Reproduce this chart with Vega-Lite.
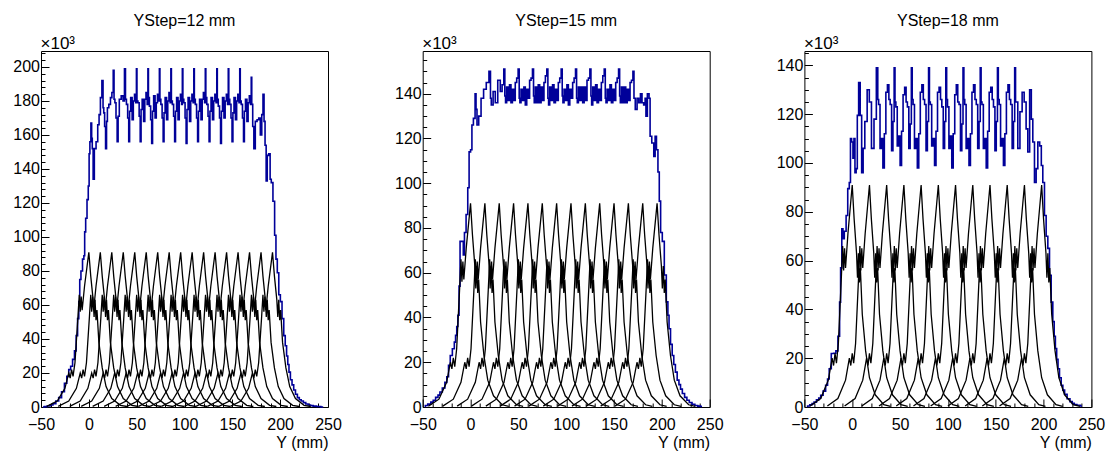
{
"$schema": "https://vega.github.io/schema/vega-lite/v6.json",
"padding": {"left": 12, "top": 12, "right": 5, "bottom": 5},
"background": "white",
"spacing": 94.7,
"bounds": "flush",
"config": {
 "view": {"stroke": "black", "strokeWidth": 1},
 "font": "Liberation Sans",
 "axis": {"labelFont": "Liberation Sans", "labelFontSize": 16, "labelColor": "black", "titleFont": "Liberation Sans", "titleFontSize": 16, "titleFontWeight": "normal", "titleColor": "black", "tickColor": "black", "tickWidth": 1, "domain": false, "grid": false, "labelOverlap": false, "labelFlush": false},
 "title": {"font": "Liberation Sans", "fontSize": 16, "fontWeight": "normal", "color": "black", "anchor": "middle", "offset": 5}
},
"datasets": {
"u1": [
{"x":-48,"y":0},{"x":-45,"y":0.2},{"x":-42,"y":0.6},{"x":-39,"y":1.2},{"x":-36,"y":2},{"x":-33,"y":3.5},{"x":-30,"y":5.5},{"x":-27,"y":9},{"x":-24,"y":14},{"x":-22,"y":18},{"x":-20,"y":22},{"x":-18,"y":24},{"x":-16,"y":28},{"x":-14,"y":33},{"x":-12.5,"y":42},{"x":-11,"y":52},{"x":-10,"y":62},{"x":-9,"y":75},{"x":-7.5,"y":80},{"x":-5.7,"y":87},{"x":-4.7,"y":89},{"x":-4,"y":103},{"x":-2.6,"y":111},{"x":-1.2,"y":122},{"x":0,"y":130},{"x":0.6,"y":149},{"x":1.6,"y":156},{"x":2.7,"y":167},{"x":3.2,"y":158},{"x":4,"y":152},{"x":5,"y":134},{"x":6.5,"y":152},{"x":8.6,"y":156},{"x":10,"y":166},{"x":11.4,"y":172},{"x":12.8,"y":182},{"x":14.5,"y":192},{"x":15.2,"y":176},{"x":16,"y":173},{"x":17,"y":165},{"x":18,"y":152},{"x":19,"y":168},{"x":19.8,"y":176},{"x":22,"y":178},{"x":23.2,"y":182},{"x":25,"y":185},{"x":26,"y":198},{"x":26.7,"y":181},{"x":27.8,"y":179},{"x":29,"y":170},{"x":30.2,"y":156},{"x":31,"y":171},{"x":32.7,"y":181},{"x":35,"y":183},{"x":36.5,"y":180},{"x":38,"y":199},
{"x":38.6,"y":181},{"x":40,"y":178},{"x":41.2,"y":170},{"x":42.2,"y":156},{"x":43,"y":174},{"x":44.5,"y":182},{"x":46,"y":169},{"x":47,"y":180},{"x":48.5,"y":184},{"x":49.5,"y":179},{"x":50,"y":199},
{"x":50.6,"y":180},{"x":52,"y":179},{"x":53.2,"y":171},{"x":54.2,"y":156},{"x":55,"y":175},{"x":56.5,"y":181},{"x":58,"y":168},{"x":59,"y":181},{"x":60.5,"y":185},{"x":61.5,"y":178},{"x":62,"y":199},
{"x":62.6,"y":182},{"x":64,"y":177},{"x":65.2,"y":169},{"x":66.2,"y":155},{"x":67,"y":174},{"x":68.5,"y":183},{"x":70,"y":170},{"x":71,"y":179},{"x":72.5,"y":184},{"x":73.5,"y":180},{"x":74,"y":199},
{"x":74.6,"y":181},{"x":76,"y":178},{"x":77.2,"y":170},{"x":78.2,"y":156},{"x":79,"y":173},{"x":80.5,"y":182},{"x":82,"y":169},{"x":83,"y":180},{"x":84.5,"y":185},{"x":85.5,"y":179},{"x":86,"y":199},
{"x":86.6,"y":180},{"x":88,"y":178},{"x":89.2,"y":171},{"x":90.2,"y":156},{"x":91,"y":174},{"x":92.5,"y":182},{"x":94,"y":169},{"x":95,"y":180},{"x":96.5,"y":184},{"x":97.5,"y":178},{"x":98,"y":199},
{"x":98.6,"y":181},{"x":100,"y":179},{"x":101.2,"y":170},{"x":102.2,"y":155},{"x":103,"y":175},{"x":104.5,"y":182},{"x":106,"y":168},{"x":107,"y":180},{"x":108.5,"y":184},{"x":109.5,"y":179},{"x":110,"y":199},
{"x":110.6,"y":181},{"x":112,"y":178},{"x":113.2,"y":170},{"x":114.2,"y":156},{"x":115,"y":174},{"x":116.5,"y":181},{"x":118,"y":169},{"x":119,"y":181},{"x":120.5,"y":185},{"x":121.5,"y":179},{"x":122,"y":199},
{"x":122.6,"y":182},{"x":124,"y":178},{"x":125.2,"y":171},{"x":126.2,"y":156},{"x":127,"y":174},{"x":128.5,"y":182},{"x":130,"y":169},{"x":131,"y":180},{"x":132.5,"y":184},{"x":133.5,"y":179},{"x":134,"y":199},
{"x":134.6,"y":181},{"x":136,"y":177},{"x":137.2,"y":170},{"x":138.2,"y":155},{"x":139,"y":174},{"x":140.5,"y":182},{"x":142,"y":170},{"x":143,"y":180},{"x":144.5,"y":184},{"x":145.5,"y":178},{"x":146,"y":199},
{"x":146.6,"y":181},{"x":148,"y":178},{"x":149.2,"y":170},{"x":150.2,"y":156},{"x":151,"y":173},{"x":152.5,"y":182},{"x":154,"y":169},{"x":155,"y":180},{"x":156.5,"y":184},{"x":157.5,"y":179},{"x":158,"y":199},
{"x":158.6,"y":180},{"x":160,"y":178},{"x":161.2,"y":170},{"x":162.2,"y":156},{"x":163,"y":174},{"x":164.5,"y":181},{"x":166,"y":168},{"x":167,"y":179},{"x":168.5,"y":183},{"x":169.5,"y":178},{"x":170,"y":194},
{"x":170.6,"y":178},{"x":172,"y":165},{"x":173,"y":152},{"x":175,"y":168},{"x":176.7,"y":169},{"x":178.5,"y":170},{"x":180,"y":160},{"x":181.5,"y":172},{"x":182.6,"y":184},{"x":183.7,"y":168},{"x":184.7,"y":154},{"x":186,"y":133},{"x":187,"y":148},{"x":189,"y":149},{"x":190,"y":134},{"x":191.4,"y":132},{"x":193.5,"y":121},{"x":194.9,"y":101},{"x":196.3,"y":87},{"x":197.7,"y":79},{"x":199.4,"y":66},{"x":201,"y":62},{"x":202.9,"y":52},{"x":204.6,"y":42},{"x":206,"y":36},{"x":207.4,"y":30},{"x":208.5,"y":25},{"x":209.9,"y":20.5},{"x":211.5,"y":16},{"x":213.3,"y":13},{"x":215,"y":10},{"x":217,"y":7.5},{"x":219,"y":5.5},{"x":221,"y":4.3},{"x":223,"y":3.5},{"x":225.5,"y":2.6},{"x":228,"y":1.8},{"x":230.5,"y":1.2},{"x":233,"y":0.8},{"x":236,"y":0.5},{"x":240,"y":0.3},{"x":245,"y":0}
],
"u2": [
{"x":-48,"y":0.2},{"x":-46.5,"y":0.7},{"x":-43,"y":1.3},{"x":-40,"y":2.2},{"x":-38,"y":3},{"x":-35,"y":4.3},{"x":-33,"y":5.3},{"x":-31,"y":6.7},{"x":-28,"y":8.5},{"x":-25.6,"y":11},{"x":-24,"y":13.5},{"x":-22,"y":18.6},{"x":-20.4,"y":23},{"x":-17.6,"y":26},{"x":-16.3,"y":29},{"x":-15,"y":32},{"x":-13.8,"y":36},{"x":-12.7,"y":41},{"x":-11.3,"y":54},{"x":-10.6,"y":74},{"x":-8.1,"y":74},{"x":-7,"y":68},{"x":-5.7,"y":78},{"x":-3.6,"y":86},{"x":-2.2,"y":98},{"x":-0.8,"y":114},{"x":0.9,"y":115},{"x":2,"y":126},{"x":4,"y":129},{"x":5.5,"y":140},{"x":6,"y":133},{"x":7.5,"y":126},{"x":9.6,"y":130},{"x":12.4,"y":138},{"x":14.9,"y":142},{"x":18,"y":145},{"x":20.5,"y":150},{"x":21.2,"y":138},{"x":22.2,"y":135},{"x":25,"y":141},{"x":26.7,"y":136},{"x":30.2,"y":146},{"x":32,"y":141},{"x":34,"y":144},{"x":35.5,"y":151},
{"x":36.2,"y":139},{"x":37,"y":136},{"x":38.5,"y":143},{"x":40,"y":137},{"x":41.5,"y":144},{"x":43,"y":136},{"x":44.5,"y":142},{"x":46,"y":137},{"x":47.5,"y":145},{"x":49,"y":147},{"x":50.5,"y":151},
{"x":51.2,"y":138},{"x":52,"y":136},{"x":53.5,"y":142},{"x":55,"y":137},{"x":56.5,"y":143},{"x":58,"y":135},{"x":59.5,"y":142},{"x":61,"y":138},{"x":62.5,"y":146},{"x":64,"y":147},{"x":65.5,"y":151},
{"x":66.2,"y":139},{"x":67,"y":136},{"x":68.5,"y":143},{"x":70,"y":136},{"x":71.5,"y":144},{"x":73,"y":136},{"x":74.5,"y":143},{"x":76,"y":137},{"x":77.5,"y":145},{"x":79,"y":148},{"x":80.5,"y":151},
{"x":81.2,"y":138},{"x":82,"y":135},{"x":83.5,"y":143},{"x":85,"y":137},{"x":86.5,"y":144},{"x":88,"y":136},{"x":89.5,"y":142},{"x":91,"y":137},{"x":92.5,"y":145},{"x":94,"y":147},{"x":95.5,"y":151},
{"x":96.2,"y":139},{"x":97,"y":136},{"x":98.5,"y":142},{"x":100,"y":137},{"x":101.5,"y":144},{"x":103,"y":135},{"x":104.5,"y":142},{"x":106,"y":138},{"x":107.5,"y":145},{"x":109,"y":147},{"x":110.5,"y":151},
{"x":111.2,"y":138},{"x":112,"y":136},{"x":113.5,"y":143},{"x":115,"y":137},{"x":116.5,"y":143},{"x":118,"y":136},{"x":119.5,"y":143},{"x":121,"y":137},{"x":122.5,"y":146},{"x":124,"y":147},{"x":125.5,"y":151},
{"x":126.2,"y":139},{"x":127,"y":135},{"x":128.5,"y":143},{"x":130,"y":137},{"x":131.5,"y":144},{"x":133,"y":136},{"x":134.5,"y":142},{"x":136,"y":137},{"x":137.5,"y":145},{"x":139,"y":148},{"x":140.5,"y":151},
{"x":141.2,"y":138},{"x":142,"y":136},{"x":143.5,"y":142},{"x":145,"y":137},{"x":146.5,"y":144},{"x":148,"y":136},{"x":149.5,"y":142},{"x":151,"y":137},{"x":152.5,"y":145},{"x":154,"y":147},{"x":155.5,"y":151},
{"x":156.2,"y":139},{"x":157,"y":136},{"x":158.5,"y":143},{"x":160,"y":136},{"x":161.5,"y":143},{"x":163,"y":136},{"x":164.5,"y":142},{"x":166,"y":137},{"x":167.5,"y":145},{"x":169,"y":146},{"x":170.5,"y":150},
{"x":171.2,"y":138},{"x":173.2,"y":133},{"x":175,"y":138},{"x":176.7,"y":136},{"x":178.5,"y":140},{"x":180,"y":136},{"x":182,"y":135},{"x":183,"y":138},{"x":183.7,"y":130},{"x":186,"y":140},{"x":187.2,"y":138},{"x":188.2,"y":121},{"x":190.7,"y":118},{"x":192.4,"y":112},{"x":193.5,"y":121},{"x":195.2,"y":115},{"x":196.6,"y":105},{"x":198,"y":92},{"x":199.4,"y":78},{"x":201.5,"y":74},{"x":203.6,"y":59},{"x":205.7,"y":47},{"x":206.9,"y":41},{"x":208.1,"y":35},{"x":210,"y":28},{"x":211.6,"y":23},{"x":213.3,"y":19},{"x":215,"y":15.6},{"x":217,"y":12},{"x":218.7,"y":10},{"x":220.3,"y":8},{"x":222.5,"y":6},{"x":225,"y":4.3},{"x":227.3,"y":3},{"x":230,"y":2},{"x":233,"y":1.2},{"x":236,"y":0.7},{"x":239,"y":0.4},{"x":242,"y":0.2}
],
"u3": [
{"x":-47.5,"y":0.2},{"x":-45.8,"y":0.4},{"x":-43,"y":0.9},{"x":-41,"y":1.4},{"x":-38.8,"y":2},{"x":-36,"y":2.9},{"x":-34,"y":3.7},{"x":-31.9,"y":4.8},{"x":-29,"y":6.5},{"x":-26.6,"y":8.9},{"x":-25,"y":11.5},{"x":-23.1,"y":15.7},{"x":-20.7,"y":21.9},{"x":-18,"y":22},{"x":-16.2,"y":23},{"x":-13.7,"y":29},{"x":-12.7,"y":43},{"x":-11.6,"y":57},{"x":-10.2,"y":73},{"x":-9.2,"y":69},{"x":-7.4,"y":72},{"x":-5.4,"y":78.5},{"x":-4,"y":89.5},{"x":-2.2,"y":92},{"x":-1.5,"y":110},{"x":0.2,"y":108.6},{"x":1.3,"y":102},{"x":2.3,"y":110},{"x":3.4,"y":96},{"x":4.8,"y":97.7},{"x":5.8,"y":119.5},{"x":7.6,"y":133},{"x":9,"y":119.5},{"x":10.7,"y":96},{"x":12.1,"y":106},{"x":14.2,"y":117},{"x":17,"y":130},{"x":18.7,"y":125},{"x":21.5,"y":106},{"x":24,"y":118},{"x":26.4,"y":139},
{"x":27,"y":126},{"x":28.2,"y":124},{"x":29.9,"y":106},{"x":31.4,"y":110},{"x":32.7,"y":98},{"x":34.4,"y":112},{"x":35.9,"y":129},{"x":37.7,"y":132},{"x":38.9,"y":126},{"x":40.4,"y":124},{"x":41.9,"y":105},{"x":43.2,"y":117},{"x":44.4,"y":139},
{"x":45,"y":125},{"x":46.2,"y":123},{"x":47.9,"y":107},{"x":49.4,"y":111},{"x":50.7,"y":99},{"x":52.4,"y":113},{"x":53.9,"y":128},{"x":55.7,"y":131},{"x":56.9,"y":125},{"x":58.4,"y":123},{"x":59.9,"y":106},{"x":61.2,"y":116},{"x":62.4,"y":139},
{"x":63,"y":126},{"x":64.2,"y":124},{"x":65.9,"y":106},{"x":67.4,"y":110},{"x":68.7,"y":98},{"x":70.4,"y":112},{"x":71.9,"y":129},{"x":73.7,"y":132},{"x":74.9,"y":126},{"x":76.4,"y":124},{"x":77.9,"y":105},{"x":79.2,"y":117},{"x":80.4,"y":139},
{"x":81,"y":125},{"x":82.2,"y":124},{"x":83.9,"y":107},{"x":85.4,"y":110},{"x":86.7,"y":99},{"x":88.4,"y":113},{"x":89.9,"y":129},{"x":91.7,"y":131},{"x":92.9,"y":126},{"x":94.4,"y":123},{"x":95.9,"y":106},{"x":97.2,"y":117},{"x":98.4,"y":139},
{"x":99,"y":126},{"x":100.2,"y":123},{"x":101.9,"y":106},{"x":103.4,"y":111},{"x":104.7,"y":98},{"x":106.4,"y":112},{"x":107.9,"y":128},{"x":109.7,"y":132},{"x":110.9,"y":125},{"x":112.4,"y":124},{"x":113.9,"y":105},{"x":115.2,"y":116},{"x":116.4,"y":139},
{"x":117,"y":126},{"x":118.2,"y":124},{"x":119.9,"y":106},{"x":121.4,"y":110},{"x":122.7,"y":99},{"x":124.4,"y":112},{"x":125.9,"y":129},{"x":127.7,"y":132},{"x":128.9,"y":126},{"x":130.4,"y":124},{"x":131.9,"y":106},{"x":133.2,"y":117},{"x":134.4,"y":139},
{"x":135,"y":125},{"x":136.2,"y":124},{"x":137.9,"y":106},{"x":139.4,"y":110},{"x":140.7,"y":98},{"x":142.4,"y":113},{"x":143.9,"y":129},{"x":145.7,"y":131},{"x":146.9,"y":126},{"x":148.4,"y":123},{"x":149.9,"y":105},{"x":151.2,"y":117},{"x":152.4,"y":139},
{"x":153,"y":126},{"x":154.2,"y":124},{"x":155.9,"y":107},{"x":157.4,"y":110},{"x":158.7,"y":99},{"x":160.4,"y":112},{"x":161.9,"y":129},{"x":163.7,"y":132},{"x":164.9,"y":126},{"x":166.4,"y":124},{"x":167.9,"y":106},{"x":169.2,"y":117},{"x":170.4,"y":139},
{"x":171,"y":125},{"x":172.2,"y":125},{"x":173.9,"y":106},{"x":176.7,"y":121},{"x":178.5,"y":129},{"x":180.9,"y":125},{"x":182.6,"y":114},{"x":184.4,"y":104.5},{"x":186.5,"y":130},{"x":187.9,"y":118},{"x":189.6,"y":108.6},{"x":191.4,"y":92},{"x":193.1,"y":97.7},{"x":194.9,"y":108.6},{"x":197,"y":107},{"x":198.3,"y":99},{"x":200.1,"y":92},{"x":201.8,"y":78.5},{"x":203.6,"y":70},{"x":205.3,"y":65},{"x":207.1,"y":54},{"x":208.8,"y":43},{"x":210.5,"y":35},{"x":211.7,"y":29},{"x":213,"y":24},{"x":214.4,"y":19.5},{"x":215.8,"y":15.7},{"x":217.5,"y":12},{"x":219.3,"y":8.9},{"x":221,"y":6.9},{"x":223,"y":5.2},{"x":226.2,"y":3.4},{"x":229,"y":2.2},{"x":231,"y":1.5},{"x":233.2,"y":1},{"x":236.5,"y":0.7},{"x":240.2,"y":0.4}
],
"b": [
{"c":0,"x":-44,"y":0.4},{"c":0,"x":-33,"y":3.5},{"c":0,"x":-25,"y":11},{"c":0,"x":-21,"y":20},{"c":0,"x":-19.5,"y":17},{"c":0,"x":-18,"y":22},{"c":0,"x":-16.5,"y":18},{"c":0,"x":-14.5,"y":26},{"c":0,"x":-11.5,"y":52},{"c":0,"x":-10,"y":66},{"c":0,"x":-9,"y":56},{"c":0,"x":-8,"y":65},{"c":0,"x":-7,"y":57},{"c":0,"x":-4.5,"y":71},{"c":0,"x":0,"y":91},{"c":0,"x":2,"y":77},{"c":0,"x":4.5,"y":63},{"c":0,"x":5.5,"y":53},{"c":0,"x":6.5,"y":63},{"c":0,"x":7.5,"y":51},{"c":0,"x":8.5,"y":57},{"c":0,"x":10.5,"y":38},{"c":0,"x":14,"y":23},{"c":0,"x":18,"y":12},{"c":0,"x":24,"y":5},{"c":0,"x":33,"y":1},{"c":0,"x":40,"y":0.3},
{"c":12,"x":-32,"y":0.4},{"c":12,"x":-21,"y":3.5},{"c":12,"x":-13,"y":11},{"c":12,"x":-9,"y":20},{"c":12,"x":-7.5,"y":17},{"c":12,"x":-6,"y":22},{"c":12,"x":-4.5,"y":18},{"c":12,"x":-2.5,"y":26},{"c":12,"x":0.5,"y":52},{"c":12,"x":2,"y":66},{"c":12,"x":3,"y":56},{"c":12,"x":4,"y":65},{"c":12,"x":5,"y":57},{"c":12,"x":7.5,"y":71},{"c":12,"x":12,"y":91},{"c":12,"x":14,"y":77},{"c":12,"x":16.5,"y":63},{"c":12,"x":17.5,"y":53},{"c":12,"x":18.5,"y":63},{"c":12,"x":19.5,"y":51},{"c":12,"x":20.5,"y":57},{"c":12,"x":22.5,"y":38},{"c":12,"x":26,"y":23},{"c":12,"x":30,"y":12},{"c":12,"x":36,"y":5},{"c":12,"x":45,"y":1},{"c":12,"x":52,"y":0.3},
{"c":15,"x":-29,"y":0.4},{"c":15,"x":-18,"y":3.5},{"c":15,"x":-10,"y":11},{"c":15,"x":-6,"y":20},{"c":15,"x":-4.5,"y":17},{"c":15,"x":-3,"y":22},{"c":15,"x":-1.5,"y":18},{"c":15,"x":0.5,"y":26},{"c":15,"x":3.5,"y":52},{"c":15,"x":5,"y":66},{"c":15,"x":6,"y":56},{"c":15,"x":7,"y":65},{"c":15,"x":8,"y":57},{"c":15,"x":10.5,"y":71},{"c":15,"x":15,"y":91},{"c":15,"x":17,"y":77},{"c":15,"x":19.5,"y":63},{"c":15,"x":20.5,"y":53},{"c":15,"x":21.5,"y":63},{"c":15,"x":22.5,"y":51},{"c":15,"x":23.5,"y":57},{"c":15,"x":25.5,"y":38},{"c":15,"x":29,"y":23},{"c":15,"x":33,"y":12},{"c":15,"x":39,"y":5},{"c":15,"x":48,"y":1},{"c":15,"x":55,"y":0.3},
{"c":18,"x":-26,"y":0.4},{"c":18,"x":-15,"y":3.5},{"c":18,"x":-7,"y":11},{"c":18,"x":-3,"y":20},{"c":18,"x":-1.5,"y":17},{"c":18,"x":0,"y":22},{"c":18,"x":1.5,"y":18},{"c":18,"x":3.5,"y":26},{"c":18,"x":6.5,"y":52},{"c":18,"x":8,"y":66},{"c":18,"x":9,"y":56},{"c":18,"x":10,"y":65},{"c":18,"x":11,"y":57},{"c":18,"x":13.5,"y":71},{"c":18,"x":18,"y":91},{"c":18,"x":20,"y":77},{"c":18,"x":22.5,"y":63},{"c":18,"x":23.5,"y":53},{"c":18,"x":24.5,"y":63},{"c":18,"x":25.5,"y":51},{"c":18,"x":26.5,"y":57},{"c":18,"x":28.5,"y":38},{"c":18,"x":32,"y":23},{"c":18,"x":36,"y":12},{"c":18,"x":42,"y":5},{"c":18,"x":51,"y":1},{"c":18,"x":58,"y":0.3},
{"c":24,"x":-20,"y":0.4},{"c":24,"x":-9,"y":3.5},{"c":24,"x":-1,"y":11},{"c":24,"x":3,"y":20},{"c":24,"x":4.5,"y":17},{"c":24,"x":6,"y":22},{"c":24,"x":7.5,"y":18},{"c":24,"x":9.5,"y":26},{"c":24,"x":12.5,"y":52},{"c":24,"x":14,"y":66},{"c":24,"x":15,"y":56},{"c":24,"x":16,"y":65},{"c":24,"x":17,"y":57},{"c":24,"x":19.5,"y":71},{"c":24,"x":24,"y":91},{"c":24,"x":26,"y":77},{"c":24,"x":28.5,"y":63},{"c":24,"x":29.5,"y":53},{"c":24,"x":30.5,"y":63},{"c":24,"x":31.5,"y":51},{"c":24,"x":32.5,"y":57},{"c":24,"x":34.5,"y":38},{"c":24,"x":38,"y":23},{"c":24,"x":42,"y":12},{"c":24,"x":48,"y":5},{"c":24,"x":57,"y":1},{"c":24,"x":64,"y":0.3},
{"c":30,"x":-14,"y":0.4},{"c":30,"x":-3,"y":3.5},{"c":30,"x":5,"y":11},{"c":30,"x":9,"y":20},{"c":30,"x":10.5,"y":17},{"c":30,"x":12,"y":22},{"c":30,"x":13.5,"y":18},{"c":30,"x":15.5,"y":26},{"c":30,"x":18.5,"y":52},{"c":30,"x":20,"y":66},{"c":30,"x":21,"y":56},{"c":30,"x":22,"y":65},{"c":30,"x":23,"y":57},{"c":30,"x":25.5,"y":71},{"c":30,"x":30,"y":91},{"c":30,"x":32,"y":77},{"c":30,"x":34.5,"y":63},{"c":30,"x":35.5,"y":53},{"c":30,"x":36.5,"y":63},{"c":30,"x":37.5,"y":51},{"c":30,"x":38.5,"y":57},{"c":30,"x":40.5,"y":38},{"c":30,"x":44,"y":23},{"c":30,"x":48,"y":12},{"c":30,"x":54,"y":5},{"c":30,"x":63,"y":1},{"c":30,"x":70,"y":0.3},
{"c":36,"x":-8,"y":0.4},{"c":36,"x":3,"y":3.5},{"c":36,"x":11,"y":11},{"c":36,"x":15,"y":20},{"c":36,"x":16.5,"y":17},{"c":36,"x":18,"y":22},{"c":36,"x":19.5,"y":18},{"c":36,"x":21.5,"y":26},{"c":36,"x":24.5,"y":52},{"c":36,"x":26,"y":66},{"c":36,"x":27,"y":56},{"c":36,"x":28,"y":65},{"c":36,"x":29,"y":57},{"c":36,"x":31.5,"y":71},{"c":36,"x":36,"y":91},{"c":36,"x":38,"y":77},{"c":36,"x":40.5,"y":63},{"c":36,"x":41.5,"y":53},{"c":36,"x":42.5,"y":63},{"c":36,"x":43.5,"y":51},{"c":36,"x":44.5,"y":57},{"c":36,"x":46.5,"y":38},{"c":36,"x":50,"y":23},{"c":36,"x":54,"y":12},{"c":36,"x":60,"y":5},{"c":36,"x":69,"y":1},{"c":36,"x":76,"y":0.3},
{"c":45,"x":1,"y":0.4},{"c":45,"x":12,"y":3.5},{"c":45,"x":20,"y":11},{"c":45,"x":24,"y":20},{"c":45,"x":25.5,"y":17},{"c":45,"x":27,"y":22},{"c":45,"x":28.5,"y":18},{"c":45,"x":30.5,"y":26},{"c":45,"x":33.5,"y":52},{"c":45,"x":35,"y":66},{"c":45,"x":36,"y":56},{"c":45,"x":37,"y":65},{"c":45,"x":38,"y":57},{"c":45,"x":40.5,"y":71},{"c":45,"x":45,"y":91},{"c":45,"x":47,"y":77},{"c":45,"x":49.5,"y":63},{"c":45,"x":50.5,"y":53},{"c":45,"x":51.5,"y":63},{"c":45,"x":52.5,"y":51},{"c":45,"x":53.5,"y":57},{"c":45,"x":55.5,"y":38},{"c":45,"x":59,"y":23},{"c":45,"x":63,"y":12},{"c":45,"x":69,"y":5},{"c":45,"x":78,"y":1},{"c":45,"x":85,"y":0.3},
{"c":48,"x":4,"y":0.4},{"c":48,"x":15,"y":3.5},{"c":48,"x":23,"y":11},{"c":48,"x":27,"y":20},{"c":48,"x":28.5,"y":17},{"c":48,"x":30,"y":22},{"c":48,"x":31.5,"y":18},{"c":48,"x":33.5,"y":26},{"c":48,"x":36.5,"y":52},{"c":48,"x":38,"y":66},{"c":48,"x":39,"y":56},{"c":48,"x":40,"y":65},{"c":48,"x":41,"y":57},{"c":48,"x":43.5,"y":71},{"c":48,"x":48,"y":91},{"c":48,"x":50,"y":77},{"c":48,"x":52.5,"y":63},{"c":48,"x":53.5,"y":53},{"c":48,"x":54.5,"y":63},{"c":48,"x":55.5,"y":51},{"c":48,"x":56.5,"y":57},{"c":48,"x":58.5,"y":38},{"c":48,"x":62,"y":23},{"c":48,"x":66,"y":12},{"c":48,"x":72,"y":5},{"c":48,"x":81,"y":1},{"c":48,"x":88,"y":0.3},
{"c":54,"x":10,"y":0.4},{"c":54,"x":21,"y":3.5},{"c":54,"x":29,"y":11},{"c":54,"x":33,"y":20},{"c":54,"x":34.5,"y":17},{"c":54,"x":36,"y":22},{"c":54,"x":37.5,"y":18},{"c":54,"x":39.5,"y":26},{"c":54,"x":42.5,"y":52},{"c":54,"x":44,"y":66},{"c":54,"x":45,"y":56},{"c":54,"x":46,"y":65},{"c":54,"x":47,"y":57},{"c":54,"x":49.5,"y":71},{"c":54,"x":54,"y":91},{"c":54,"x":56,"y":77},{"c":54,"x":58.5,"y":63},{"c":54,"x":59.5,"y":53},{"c":54,"x":60.5,"y":63},{"c":54,"x":61.5,"y":51},{"c":54,"x":62.5,"y":57},{"c":54,"x":64.5,"y":38},{"c":54,"x":68,"y":23},{"c":54,"x":72,"y":12},{"c":54,"x":78,"y":5},{"c":54,"x":87,"y":1},{"c":54,"x":94,"y":0.3},
{"c":60,"x":16,"y":0.4},{"c":60,"x":27,"y":3.5},{"c":60,"x":35,"y":11},{"c":60,"x":39,"y":20},{"c":60,"x":40.5,"y":17},{"c":60,"x":42,"y":22},{"c":60,"x":43.5,"y":18},{"c":60,"x":45.5,"y":26},{"c":60,"x":48.5,"y":52},{"c":60,"x":50,"y":66},{"c":60,"x":51,"y":56},{"c":60,"x":52,"y":65},{"c":60,"x":53,"y":57},{"c":60,"x":55.5,"y":71},{"c":60,"x":60,"y":91},{"c":60,"x":62,"y":77},{"c":60,"x":64.5,"y":63},{"c":60,"x":65.5,"y":53},{"c":60,"x":66.5,"y":63},{"c":60,"x":67.5,"y":51},{"c":60,"x":68.5,"y":57},{"c":60,"x":70.5,"y":38},{"c":60,"x":74,"y":23},{"c":60,"x":78,"y":12},{"c":60,"x":84,"y":5},{"c":60,"x":93,"y":1},{"c":60,"x":100,"y":0.3},
{"c":72,"x":28,"y":0.4},{"c":72,"x":39,"y":3.5},{"c":72,"x":47,"y":11},{"c":72,"x":51,"y":20},{"c":72,"x":52.5,"y":17},{"c":72,"x":54,"y":22},{"c":72,"x":55.5,"y":18},{"c":72,"x":57.5,"y":26},{"c":72,"x":60.5,"y":52},{"c":72,"x":62,"y":66},{"c":72,"x":63,"y":56},{"c":72,"x":64,"y":65},{"c":72,"x":65,"y":57},{"c":72,"x":67.5,"y":71},{"c":72,"x":72,"y":91},{"c":72,"x":74,"y":77},{"c":72,"x":76.5,"y":63},{"c":72,"x":77.5,"y":53},{"c":72,"x":78.5,"y":63},{"c":72,"x":79.5,"y":51},{"c":72,"x":80.5,"y":57},{"c":72,"x":82.5,"y":38},{"c":72,"x":86,"y":23},{"c":72,"x":90,"y":12},{"c":72,"x":96,"y":5},{"c":72,"x":105,"y":1},{"c":72,"x":112,"y":0.3},
{"c":75,"x":31,"y":0.4},{"c":75,"x":42,"y":3.5},{"c":75,"x":50,"y":11},{"c":75,"x":54,"y":20},{"c":75,"x":55.5,"y":17},{"c":75,"x":57,"y":22},{"c":75,"x":58.5,"y":18},{"c":75,"x":60.5,"y":26},{"c":75,"x":63.5,"y":52},{"c":75,"x":65,"y":66},{"c":75,"x":66,"y":56},{"c":75,"x":67,"y":65},{"c":75,"x":68,"y":57},{"c":75,"x":70.5,"y":71},{"c":75,"x":75,"y":91},{"c":75,"x":77,"y":77},{"c":75,"x":79.5,"y":63},{"c":75,"x":80.5,"y":53},{"c":75,"x":81.5,"y":63},{"c":75,"x":82.5,"y":51},{"c":75,"x":83.5,"y":57},{"c":75,"x":85.5,"y":38},{"c":75,"x":89,"y":23},{"c":75,"x":93,"y":12},{"c":75,"x":99,"y":5},{"c":75,"x":108,"y":1},{"c":75,"x":115,"y":0.3},
{"c":84,"x":40,"y":0.4},{"c":84,"x":51,"y":3.5},{"c":84,"x":59,"y":11},{"c":84,"x":63,"y":20},{"c":84,"x":64.5,"y":17},{"c":84,"x":66,"y":22},{"c":84,"x":67.5,"y":18},{"c":84,"x":69.5,"y":26},{"c":84,"x":72.5,"y":52},{"c":84,"x":74,"y":66},{"c":84,"x":75,"y":56},{"c":84,"x":76,"y":65},{"c":84,"x":77,"y":57},{"c":84,"x":79.5,"y":71},{"c":84,"x":84,"y":91},{"c":84,"x":86,"y":77},{"c":84,"x":88.5,"y":63},{"c":84,"x":89.5,"y":53},{"c":84,"x":90.5,"y":63},{"c":84,"x":91.5,"y":51},{"c":84,"x":92.5,"y":57},{"c":84,"x":94.5,"y":38},{"c":84,"x":98,"y":23},{"c":84,"x":102,"y":12},{"c":84,"x":108,"y":5},{"c":84,"x":117,"y":1},{"c":84,"x":124,"y":0.3},
{"c":90,"x":46,"y":0.4},{"c":90,"x":57,"y":3.5},{"c":90,"x":65,"y":11},{"c":90,"x":69,"y":20},{"c":90,"x":70.5,"y":17},{"c":90,"x":72,"y":22},{"c":90,"x":73.5,"y":18},{"c":90,"x":75.5,"y":26},{"c":90,"x":78.5,"y":52},{"c":90,"x":80,"y":66},{"c":90,"x":81,"y":56},{"c":90,"x":82,"y":65},{"c":90,"x":83,"y":57},{"c":90,"x":85.5,"y":71},{"c":90,"x":90,"y":91},{"c":90,"x":92,"y":77},{"c":90,"x":94.5,"y":63},{"c":90,"x":95.5,"y":53},{"c":90,"x":96.5,"y":63},{"c":90,"x":97.5,"y":51},{"c":90,"x":98.5,"y":57},{"c":90,"x":100.5,"y":38},{"c":90,"x":104,"y":23},{"c":90,"x":108,"y":12},{"c":90,"x":114,"y":5},{"c":90,"x":123,"y":1},{"c":90,"x":130,"y":0.3},
{"c":96,"x":52,"y":0.4},{"c":96,"x":63,"y":3.5},{"c":96,"x":71,"y":11},{"c":96,"x":75,"y":20},{"c":96,"x":76.5,"y":17},{"c":96,"x":78,"y":22},{"c":96,"x":79.5,"y":18},{"c":96,"x":81.5,"y":26},{"c":96,"x":84.5,"y":52},{"c":96,"x":86,"y":66},{"c":96,"x":87,"y":56},{"c":96,"x":88,"y":65},{"c":96,"x":89,"y":57},{"c":96,"x":91.5,"y":71},{"c":96,"x":96,"y":91},{"c":96,"x":98,"y":77},{"c":96,"x":100.5,"y":63},{"c":96,"x":101.5,"y":53},{"c":96,"x":102.5,"y":63},{"c":96,"x":103.5,"y":51},{"c":96,"x":104.5,"y":57},{"c":96,"x":106.5,"y":38},{"c":96,"x":110,"y":23},{"c":96,"x":114,"y":12},{"c":96,"x":120,"y":5},{"c":96,"x":129,"y":1},{"c":96,"x":136,"y":0.3},
{"c":105,"x":61,"y":0.4},{"c":105,"x":72,"y":3.5},{"c":105,"x":80,"y":11},{"c":105,"x":84,"y":20},{"c":105,"x":85.5,"y":17},{"c":105,"x":87,"y":22},{"c":105,"x":88.5,"y":18},{"c":105,"x":90.5,"y":26},{"c":105,"x":93.5,"y":52},{"c":105,"x":95,"y":66},{"c":105,"x":96,"y":56},{"c":105,"x":97,"y":65},{"c":105,"x":98,"y":57},{"c":105,"x":100.5,"y":71},{"c":105,"x":105,"y":91},{"c":105,"x":107,"y":77},{"c":105,"x":109.5,"y":63},{"c":105,"x":110.5,"y":53},{"c":105,"x":111.5,"y":63},{"c":105,"x":112.5,"y":51},{"c":105,"x":113.5,"y":57},{"c":105,"x":115.5,"y":38},{"c":105,"x":119,"y":23},{"c":105,"x":123,"y":12},{"c":105,"x":129,"y":5},{"c":105,"x":138,"y":1},{"c":105,"x":145,"y":0.3},
{"c":108,"x":64,"y":0.4},{"c":108,"x":75,"y":3.5},{"c":108,"x":83,"y":11},{"c":108,"x":87,"y":20},{"c":108,"x":88.5,"y":17},{"c":108,"x":90,"y":22},{"c":108,"x":91.5,"y":18},{"c":108,"x":93.5,"y":26},{"c":108,"x":96.5,"y":52},{"c":108,"x":98,"y":66},{"c":108,"x":99,"y":56},{"c":108,"x":100,"y":65},{"c":108,"x":101,"y":57},{"c":108,"x":103.5,"y":71},{"c":108,"x":108,"y":91},{"c":108,"x":110,"y":77},{"c":108,"x":112.5,"y":63},{"c":108,"x":113.5,"y":53},{"c":108,"x":114.5,"y":63},{"c":108,"x":115.5,"y":51},{"c":108,"x":116.5,"y":57},{"c":108,"x":118.5,"y":38},{"c":108,"x":122,"y":23},{"c":108,"x":126,"y":12},{"c":108,"x":132,"y":5},{"c":108,"x":141,"y":1},{"c":108,"x":148,"y":0.3},
{"c":120,"x":76,"y":0.4},{"c":120,"x":87,"y":3.5},{"c":120,"x":95,"y":11},{"c":120,"x":99,"y":20},{"c":120,"x":100.5,"y":17},{"c":120,"x":102,"y":22},{"c":120,"x":103.5,"y":18},{"c":120,"x":105.5,"y":26},{"c":120,"x":108.5,"y":52},{"c":120,"x":110,"y":66},{"c":120,"x":111,"y":56},{"c":120,"x":112,"y":65},{"c":120,"x":113,"y":57},{"c":120,"x":115.5,"y":71},{"c":120,"x":120,"y":91},{"c":120,"x":122,"y":77},{"c":120,"x":124.5,"y":63},{"c":120,"x":125.5,"y":53},{"c":120,"x":126.5,"y":63},{"c":120,"x":127.5,"y":51},{"c":120,"x":128.5,"y":57},{"c":120,"x":130.5,"y":38},{"c":120,"x":134,"y":23},{"c":120,"x":138,"y":12},{"c":120,"x":144,"y":5},{"c":120,"x":153,"y":1},{"c":120,"x":160,"y":0.3},
{"c":126,"x":82,"y":0.4},{"c":126,"x":93,"y":3.5},{"c":126,"x":101,"y":11},{"c":126,"x":105,"y":20},{"c":126,"x":106.5,"y":17},{"c":126,"x":108,"y":22},{"c":126,"x":109.5,"y":18},{"c":126,"x":111.5,"y":26},{"c":126,"x":114.5,"y":52},{"c":126,"x":116,"y":66},{"c":126,"x":117,"y":56},{"c":126,"x":118,"y":65},{"c":126,"x":119,"y":57},{"c":126,"x":121.5,"y":71},{"c":126,"x":126,"y":91},{"c":126,"x":128,"y":77},{"c":126,"x":130.5,"y":63},{"c":126,"x":131.5,"y":53},{"c":126,"x":132.5,"y":63},{"c":126,"x":133.5,"y":51},{"c":126,"x":134.5,"y":57},{"c":126,"x":136.5,"y":38},{"c":126,"x":140,"y":23},{"c":126,"x":144,"y":12},{"c":126,"x":150,"y":5},{"c":126,"x":159,"y":1},{"c":126,"x":166,"y":0.3},
{"c":132,"x":88,"y":0.4},{"c":132,"x":99,"y":3.5},{"c":132,"x":107,"y":11},{"c":132,"x":111,"y":20},{"c":132,"x":112.5,"y":17},{"c":132,"x":114,"y":22},{"c":132,"x":115.5,"y":18},{"c":132,"x":117.5,"y":26},{"c":132,"x":120.5,"y":52},{"c":132,"x":122,"y":66},{"c":132,"x":123,"y":56},{"c":132,"x":124,"y":65},{"c":132,"x":125,"y":57},{"c":132,"x":127.5,"y":71},{"c":132,"x":132,"y":91},{"c":132,"x":134,"y":77},{"c":132,"x":136.5,"y":63},{"c":132,"x":137.5,"y":53},{"c":132,"x":138.5,"y":63},{"c":132,"x":139.5,"y":51},{"c":132,"x":140.5,"y":57},{"c":132,"x":142.5,"y":38},{"c":132,"x":146,"y":23},{"c":132,"x":150,"y":12},{"c":132,"x":156,"y":5},{"c":132,"x":165,"y":1},{"c":132,"x":172,"y":0.3},
{"c":135,"x":91,"y":0.4},{"c":135,"x":102,"y":3.5},{"c":135,"x":110,"y":11},{"c":135,"x":114,"y":20},{"c":135,"x":115.5,"y":17},{"c":135,"x":117,"y":22},{"c":135,"x":118.5,"y":18},{"c":135,"x":120.5,"y":26},{"c":135,"x":123.5,"y":52},{"c":135,"x":125,"y":66},{"c":135,"x":126,"y":56},{"c":135,"x":127,"y":65},{"c":135,"x":128,"y":57},{"c":135,"x":130.5,"y":71},{"c":135,"x":135,"y":91},{"c":135,"x":137,"y":77},{"c":135,"x":139.5,"y":63},{"c":135,"x":140.5,"y":53},{"c":135,"x":141.5,"y":63},{"c":135,"x":142.5,"y":51},{"c":135,"x":143.5,"y":57},{"c":135,"x":145.5,"y":38},{"c":135,"x":149,"y":23},{"c":135,"x":153,"y":12},{"c":135,"x":159,"y":5},{"c":135,"x":168,"y":1},{"c":135,"x":175,"y":0.3},
{"c":144,"x":100,"y":0.4},{"c":144,"x":111,"y":3.5},{"c":144,"x":119,"y":11},{"c":144,"x":123,"y":20},{"c":144,"x":124.5,"y":17},{"c":144,"x":126,"y":22},{"c":144,"x":127.5,"y":18},{"c":144,"x":129.5,"y":26},{"c":144,"x":132.5,"y":52},{"c":144,"x":134,"y":66},{"c":144,"x":135,"y":56},{"c":144,"x":136,"y":65},{"c":144,"x":137,"y":57},{"c":144,"x":139.5,"y":71},{"c":144,"x":144,"y":91},{"c":144,"x":146,"y":77},{"c":144,"x":148.5,"y":63},{"c":144,"x":149.5,"y":53},{"c":144,"x":150.5,"y":63},{"c":144,"x":151.5,"y":51},{"c":144,"x":152.5,"y":57},{"c":144,"x":154.5,"y":38},{"c":144,"x":158,"y":23},{"c":144,"x":162,"y":12},{"c":144,"x":168,"y":5},{"c":144,"x":177,"y":1},{"c":144,"x":184,"y":0.3},
{"c":150,"x":106,"y":0.4},{"c":150,"x":117,"y":3.5},{"c":150,"x":125,"y":11},{"c":150,"x":129,"y":20},{"c":150,"x":130.5,"y":17},{"c":150,"x":132,"y":22},{"c":150,"x":133.5,"y":18},{"c":150,"x":135.5,"y":26},{"c":150,"x":138.5,"y":52},{"c":150,"x":140,"y":66},{"c":150,"x":141,"y":56},{"c":150,"x":142,"y":65},{"c":150,"x":143,"y":57},{"c":150,"x":145.5,"y":71},{"c":150,"x":150,"y":91},{"c":150,"x":152,"y":77},{"c":150,"x":154.5,"y":63},{"c":150,"x":155.5,"y":53},{"c":150,"x":156.5,"y":63},{"c":150,"x":157.5,"y":51},{"c":150,"x":158.5,"y":57},{"c":150,"x":160.5,"y":38},{"c":150,"x":164,"y":23},{"c":150,"x":168,"y":12},{"c":150,"x":174,"y":5},{"c":150,"x":183,"y":1},{"c":150,"x":190,"y":0.3},
{"c":156,"x":112,"y":0.4},{"c":156,"x":123,"y":3.5},{"c":156,"x":131,"y":11},{"c":156,"x":135,"y":20},{"c":156,"x":136.5,"y":17},{"c":156,"x":138,"y":22},{"c":156,"x":139.5,"y":18},{"c":156,"x":141.5,"y":26},{"c":156,"x":144.5,"y":52},{"c":156,"x":146,"y":66},{"c":156,"x":147,"y":56},{"c":156,"x":148,"y":65},{"c":156,"x":149,"y":57},{"c":156,"x":151.5,"y":71},{"c":156,"x":156,"y":91},{"c":156,"x":158,"y":77},{"c":156,"x":160.5,"y":63},{"c":156,"x":161.5,"y":53},{"c":156,"x":162.5,"y":63},{"c":156,"x":163.5,"y":51},{"c":156,"x":164.5,"y":57},{"c":156,"x":166.5,"y":38},{"c":156,"x":170,"y":23},{"c":156,"x":174,"y":12},{"c":156,"x":180,"y":5},{"c":156,"x":189,"y":1},{"c":156,"x":196,"y":0.3},
{"c":162,"x":118,"y":0.4},{"c":162,"x":129,"y":3.5},{"c":162,"x":137,"y":11},{"c":162,"x":141,"y":20},{"c":162,"x":142.5,"y":17},{"c":162,"x":144,"y":22},{"c":162,"x":145.5,"y":18},{"c":162,"x":147.5,"y":26},{"c":162,"x":150.5,"y":52},{"c":162,"x":152,"y":66},{"c":162,"x":153,"y":56},{"c":162,"x":154,"y":65},{"c":162,"x":155,"y":57},{"c":162,"x":157.5,"y":71},{"c":162,"x":162,"y":91},{"c":162,"x":164,"y":77},{"c":162,"x":166.5,"y":63},{"c":162,"x":167.5,"y":53},{"c":162,"x":168.5,"y":63},{"c":162,"x":169.5,"y":51},{"c":162,"x":170.5,"y":57},{"c":162,"x":172.5,"y":38},{"c":162,"x":176,"y":23},{"c":162,"x":180,"y":12},{"c":162,"x":186,"y":5},{"c":162,"x":195,"y":1},{"c":162,"x":202,"y":0.3},
{"c":165,"x":121,"y":0.4},{"c":165,"x":132,"y":3.5},{"c":165,"x":140,"y":11},{"c":165,"x":144,"y":20},{"c":165,"x":145.5,"y":17},{"c":165,"x":147,"y":22},{"c":165,"x":148.5,"y":18},{"c":165,"x":150.5,"y":26},{"c":165,"x":153.5,"y":52},{"c":165,"x":155,"y":66},{"c":165,"x":156,"y":56},{"c":165,"x":157,"y":65},{"c":165,"x":158,"y":57},{"c":165,"x":160.5,"y":71},{"c":165,"x":165,"y":91},{"c":165,"x":167,"y":77},{"c":165,"x":169.5,"y":63},{"c":165,"x":170.5,"y":53},{"c":165,"x":171.5,"y":63},{"c":165,"x":172.5,"y":51},{"c":165,"x":173.5,"y":57},{"c":165,"x":175.5,"y":38},{"c":165,"x":179,"y":23},{"c":165,"x":183,"y":12},{"c":165,"x":189,"y":5},{"c":165,"x":198,"y":1},{"c":165,"x":205,"y":0.3},
{"c":168,"x":124,"y":0.4},{"c":168,"x":135,"y":3.5},{"c":168,"x":143,"y":11},{"c":168,"x":147,"y":20},{"c":168,"x":148.5,"y":17},{"c":168,"x":150,"y":22},{"c":168,"x":151.5,"y":18},{"c":168,"x":153.5,"y":26},{"c":168,"x":156.5,"y":52},{"c":168,"x":158,"y":66},{"c":168,"x":159,"y":56},{"c":168,"x":160,"y":65},{"c":168,"x":161,"y":57},{"c":168,"x":163.5,"y":71},{"c":168,"x":168,"y":91},{"c":168,"x":170,"y":77},{"c":168,"x":172.5,"y":63},{"c":168,"x":173.5,"y":53},{"c":168,"x":174.5,"y":63},{"c":168,"x":175.5,"y":51},{"c":168,"x":176.5,"y":57},{"c":168,"x":178.5,"y":38},{"c":168,"x":182,"y":23},{"c":168,"x":186,"y":12},{"c":168,"x":192,"y":5},{"c":168,"x":201,"y":1},{"c":168,"x":208,"y":0.3},
{"c":180,"x":136,"y":0.4},{"c":180,"x":147,"y":3.5},{"c":180,"x":155,"y":11},{"c":180,"x":159,"y":20},{"c":180,"x":160.5,"y":17},{"c":180,"x":162,"y":22},{"c":180,"x":163.5,"y":18},{"c":180,"x":165.5,"y":26},{"c":180,"x":168.5,"y":52},{"c":180,"x":170,"y":66},{"c":180,"x":171,"y":56},{"c":180,"x":172,"y":65},{"c":180,"x":173,"y":57},{"c":180,"x":175.5,"y":71},{"c":180,"x":180,"y":91},{"c":180,"x":182,"y":77},{"c":180,"x":184.5,"y":63},{"c":180,"x":185.5,"y":53},{"c":180,"x":186.5,"y":63},{"c":180,"x":187.5,"y":51},{"c":180,"x":188.5,"y":57},{"c":180,"x":190.5,"y":38},{"c":180,"x":194,"y":23},{"c":180,"x":198,"y":12},{"c":180,"x":204,"y":5},{"c":180,"x":213,"y":1},{"c":180,"x":220,"y":0.3},
{"c":192,"x":148,"y":0.4},{"c":192,"x":159,"y":3.5},{"c":192,"x":167,"y":11},{"c":192,"x":171,"y":20},{"c":192,"x":172.5,"y":17},{"c":192,"x":174,"y":22},{"c":192,"x":175.5,"y":18},{"c":192,"x":177.5,"y":26},{"c":192,"x":180.5,"y":52},{"c":192,"x":182,"y":66},{"c":192,"x":183,"y":56},{"c":192,"x":184,"y":65},{"c":192,"x":185,"y":57},{"c":192,"x":187.5,"y":71},{"c":192,"x":192,"y":91},{"c":192,"x":194,"y":77},{"c":192,"x":196.5,"y":63},{"c":192,"x":197.5,"y":53},{"c":192,"x":198.5,"y":63},{"c":192,"x":199.5,"y":51},{"c":192,"x":200.5,"y":57},{"c":192,"x":202.5,"y":38},{"c":192,"x":206,"y":23},{"c":192,"x":210,"y":12},{"c":192,"x":216,"y":5},{"c":192,"x":225,"y":1},{"c":192,"x":232,"y":0.3},
{"c":195,"x":151,"y":0.4},{"c":195,"x":162,"y":3.5},{"c":195,"x":170,"y":11},{"c":195,"x":174,"y":20},{"c":195,"x":175.5,"y":17},{"c":195,"x":177,"y":22},{"c":195,"x":178.5,"y":18},{"c":195,"x":180.5,"y":26},{"c":195,"x":183.5,"y":52},{"c":195,"x":185,"y":66},{"c":195,"x":186,"y":56},{"c":195,"x":187,"y":65},{"c":195,"x":188,"y":57},{"c":195,"x":190.5,"y":71},{"c":195,"x":195,"y":91},{"c":195,"x":197,"y":77},{"c":195,"x":199.5,"y":63},{"c":195,"x":200.5,"y":53},{"c":195,"x":201.5,"y":63},{"c":195,"x":202.5,"y":51},{"c":195,"x":203.5,"y":57},{"c":195,"x":205.5,"y":38},{"c":195,"x":209,"y":23},{"c":195,"x":213,"y":12},{"c":195,"x":219,"y":5},{"c":195,"x":228,"y":1},{"c":195,"x":235,"y":0.3},
{"c":198,"x":154,"y":0.4},{"c":198,"x":165,"y":3.5},{"c":198,"x":173,"y":11},{"c":198,"x":177,"y":20},{"c":198,"x":178.5,"y":17},{"c":198,"x":180,"y":22},{"c":198,"x":181.5,"y":18},{"c":198,"x":183.5,"y":26},{"c":198,"x":186.5,"y":52},{"c":198,"x":188,"y":66},{"c":198,"x":189,"y":56},{"c":198,"x":190,"y":65},{"c":198,"x":191,"y":57},{"c":198,"x":193.5,"y":71},{"c":198,"x":198,"y":91},{"c":198,"x":200,"y":77},{"c":198,"x":202.5,"y":63},{"c":198,"x":203.5,"y":53},{"c":198,"x":204.5,"y":63},{"c":198,"x":205.5,"y":51},{"c":198,"x":206.5,"y":57},{"c":198,"x":208.5,"y":38},{"c":198,"x":212,"y":23},{"c":198,"x":216,"y":12},{"c":198,"x":222,"y":5},{"c":198,"x":231,"y":1},{"c":198,"x":238,"y":0.3}
]
},
"hconcat": [
{"title": "YStep=12 mm", "width": 287, "height": 356,
 "resolve": {"axis": {"x": "independent", "y": "independent"}},
 "layer": [
  {"data": {"name": "u1"}, "mark": {"type": "line", "color": "#000099", "strokeWidth": 1.6, "interpolate": "step"},
   "encoding": {
    "x": {"field": "x", "type": "quantitative", "scale": {"domain": [-50, 250], "nice": false, "zero": false}, "axis": {"orient": "bottom", "values": [-40,-30,-20,-10,10,20,30,40,60,70,80,90,110,120,130,140,160,170,180,190,210,220,230,240], "tickSize": -4, "labels": false, "title": null}},
    "y": {"field": "y", "type": "quantitative", "scale": {"domain": [0, 209.4], "nice": false}, "axis": {"orient": "left", "values": [4,8,12,16,24,28,32,36,44,48,52,56,64,68,72,76,84,88,92,96,104,108,112,116,124,128,132,136,144,148,152,156,164,168,172,176,184,188,192,196,204,208], "tickSize": -4, "labels": false, "title": null}}}},
  {"data": {"name": "b"}, "transform": [{"filter": {"field": "c", "oneOf": [0,12,24,36,48,60,72,84,96,108,120,132,144,156,168,180,192]}}],
   "mark": {"type": "line", "color": "black", "strokeWidth": 1.3},
   "encoding": {
    "detail": {"field": "c", "type": "nominal"},
    "x": {"field": "x", "type": "quantitative", "axis": {"orient": "bottom", "values": [-50,0,50,100,150,200,250], "tickSize": -8, "labelPadding": 17, "title": "Y (mm)", "titleAnchor": "end", "titleAlign": "right", "titlePadding": 2}},
    "y": {"field": "y", "type": "quantitative", "axis": {"orient": "left", "values": [0,20,40,60,80,100,120,140,160,180,200], "tickSize": -8, "labelPadding": 9.5, "title": "×10³", "titleAngle": 0, "titleAlign": "left", "titleBaseline": "alphabetic", "titleX": -1, "titleY": -3, "titleFontSize": 17}}}}
 ]},
{"title": "YStep=15 mm", "width": 287, "height": 356,
 "resolve": {"axis": {"x": "independent", "y": "independent"}},
 "layer": [
  {"data": {"name": "u2"}, "mark": {"type": "line", "color": "#000099", "strokeWidth": 1.6, "interpolate": "step"},
   "encoding": {
    "x": {"field": "x", "type": "quantitative", "scale": {"domain": [-50, 250], "nice": false, "zero": false}, "axis": {"orient": "bottom", "values": [-40,-30,-20,-10,10,20,30,40,60,70,80,90,110,120,130,140,160,170,180,190,210,220,230,240], "tickSize": -4, "labels": false, "title": null}},
    "y": {"field": "y", "type": "quantitative", "scale": {"domain": [0, 159.1], "nice": false}, "axis": {"orient": "left", "values": [5,10,15,25,30,35,45,50,55,65,70,75,85,90,95,105,110,115,125,130,135,145,150,155], "tickSize": -4, "labels": false, "title": null}}}},
  {"data": {"name": "b"}, "transform": [{"filter": {"field": "c", "oneOf": [0,15,30,45,60,75,90,105,120,135,150,165,180,195]}}],
   "mark": {"type": "line", "color": "black", "strokeWidth": 1.3},
   "encoding": {
    "detail": {"field": "c", "type": "nominal"},
    "x": {"field": "x", "type": "quantitative", "axis": {"orient": "bottom", "values": [-50,0,50,100,150,200,250], "tickSize": -8, "labelPadding": 17, "title": "Y (mm)", "titleAnchor": "end", "titleAlign": "right", "titlePadding": 2}},
    "y": {"field": "y", "type": "quantitative", "axis": {"orient": "left", "values": [0,20,40,60,80,100,120,140], "tickSize": -8, "labelPadding": 9.5, "title": "×10³", "titleAngle": 0, "titleAlign": "left", "titleBaseline": "alphabetic", "titleX": -1, "titleY": -3, "titleFontSize": 17}}}}
 ]},
{"title": "YStep=18 mm", "width": 287, "height": 356,
 "resolve": {"axis": {"x": "independent", "y": "independent"}},
 "layer": [
  {"data": {"name": "u3"}, "mark": {"type": "line", "color": "#000099", "strokeWidth": 1.6, "interpolate": "step"},
   "encoding": {
    "x": {"field": "x", "type": "quantitative", "scale": {"domain": [-50, 250], "nice": false, "zero": false}, "axis": {"orient": "bottom", "values": [-40,-30,-20,-10,10,20,30,40,60,70,80,90,110,120,130,140,160,170,180,190,210,220,230,240], "tickSize": -4, "labels": false, "title": null}},
    "y": {"field": "y", "type": "quantitative", "scale": {"domain": [0, 145.9], "nice": false}, "axis": {"orient": "left", "values": [5,10,15,25,30,35,45,50,55,65,70,75,85,90,95,105,110,115,125,130,135,145], "tickSize": -4, "labels": false, "title": null}}}},
  {"data": {"name": "b"}, "transform": [{"filter": {"field": "c", "oneOf": [0,18,36,54,72,90,108,126,144,162,180,198]}}],
   "mark": {"type": "line", "color": "black", "strokeWidth": 1.3},
   "encoding": {
    "detail": {"field": "c", "type": "nominal"},
    "x": {"field": "x", "type": "quantitative", "axis": {"orient": "bottom", "values": [-50,0,50,100,150,200,250], "tickSize": -8, "labelPadding": 17, "title": "Y (mm)", "titleAnchor": "end", "titleAlign": "right", "titlePadding": 2}},
    "y": {"field": "y", "type": "quantitative", "axis": {"orient": "left", "values": [0,20,40,60,80,100,120,140], "tickSize": -8, "labelPadding": 9.5, "title": "×10³", "titleAngle": 0, "titleAlign": "left", "titleBaseline": "alphabetic", "titleX": -1, "titleY": -3, "titleFontSize": 17}}}}
 ]}
]
}
